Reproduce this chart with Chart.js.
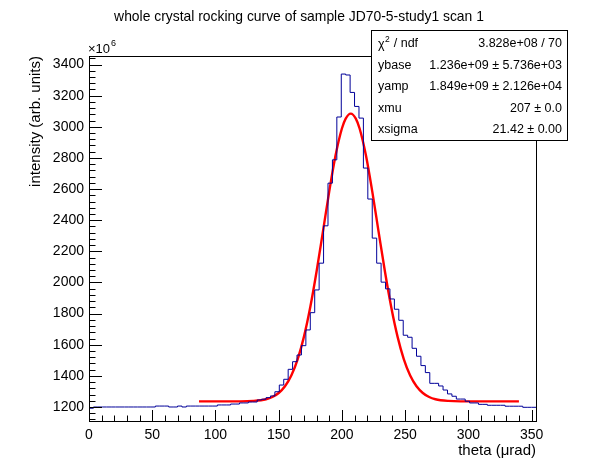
<!DOCTYPE html>
<html>
<head>
<meta charset="utf-8">
<script src="https://cdn.jsdelivr.net/npm/chart.js@4.4.1/dist/chart.umd.min.js"></script>
<style>
  html, body { margin: 0; padding: 0; background: #fff; }
  #chart { display: block; }
</style>
</head>
<body>
<canvas id="chart" width="596" height="472"></canvas>
<script>
// histogram: 101 bins of 3.5 urad starting at 0, values in 10^6 arb. units
const binWidth = 3.5;
const counts = [
  1192, 1200, 1200, 1200, 1200, 1200, 1200, 1200, 1200, 1200,
  1200, 1200, 1200, 1200, 1200, 1206, 1206, 1206, 1200, 1200,
  1206, 1200, 1206, 1206, 1206, 1206, 1206, 1206, 1206, 1213,
  1213, 1213, 1219, 1219, 1226, 1226, 1232, 1232, 1245, 1250,
  1260, 1271, 1298, 1341, 1378, 1442, 1491, 1534, 1594, 1695,
  1806, 1952, 2124, 2364, 2638, 2788, 3063, 3339, 3333, 3221,
  3131, 3056, 2735, 2536, 2285, 2124, 2002, 1959, 1894, 1828,
  1757, 1661, 1648, 1577, 1526, 1466, 1421, 1352, 1352, 1335,
  1309, 1284, 1269, 1251, 1251, 1237, 1226, 1226, 1217, 1217,
  1211, 1211, 1211, 1211, 1205, 1205, 1205, 1205, 1198, 1198,
  1198
];

// fitted curve
const fitX = [87, 120, 130, 140, 145, 150, 155, 160, 165, 170,
  175, 180, 185, 190, 195, 200, 203, 207, 211, 214,
  219, 224, 229, 234, 239, 244, 249, 254, 259, 264,
  269, 274, 284, 294, 340];
const fitY = [1236, 1236, 1239, 1250, 1264, 1290, 1333, 1402, 1506, 1652,
  1842, 2072, 2327, 2585, 2817, 2989, 3053, 3085, 3053, 2989,
  2817, 2585, 2327, 2072, 1842, 1652, 1506, 1402, 1333, 1290,
  1264, 1250, 1239, 1236, 1236];

const xTicks = [0, 50, 100, 150, 200, 250, 300, 350];
const yTicks = [1200, 1400, 1600, 1800, 2000, 2200, 2400, 2600, 2800, 3000, 3200, 3400];

const statLabels = ['ndf', 'ybase', 'yamp', 'xmu', 'xsigma'];
const statValues = ['3.828e+08 / 70', '1.236e+09 \u00b1 5.736e+03', '1.849e+09 \u00b1 2.126e+04', '207 \u00b1 0.0', '21.42 \u00b1 0.00'];

const chartTitle = 'whole crystal rocking curve of sample JD70-5-study1 scan 1';

const histPoints = counts.map((v, i) => ({ x: i * binWidth, y: v }));
histPoints.push({ x: counts.length * binWidth, y: counts[counts.length - 1] });

const fitPoints = fitX.map((x, i) => ({ x: x, y: fitY[i] }));

const FONT = '"Liberation Sans", Arial, Helvetica, sans-serif';
Chart.defaults.font.family = FONT;
Chart.defaults.color = '#000';

const rootFrame = {
  id: 'rootFrame',
  afterDraw(chart) {
    const ctx = chart.ctx;
    const area = chart.chartArea;
    const xs = chart.scales.x;
    const ys = chart.scales.y;

    ctx.save();
    ctx.strokeStyle = '#000';
    ctx.lineWidth = 1;
    ctx.strokeRect(Math.round(area.left) + 0.5, Math.round(area.top) + 0.5,
      Math.round(area.right - area.left), Math.round(area.bottom - area.top));

    // inward ticks, ROOT style
    ctx.beginPath();
    for (let v = xs.min; v <= xs.max; v += 10) {
      const px = Math.round(xs.getPixelForValue(v)) + 0.5;
      const len = xTicks.includes(v) ? 11 : 5.5;
      ctx.moveTo(px, area.bottom);
      ctx.lineTo(px, area.bottom - len);
    }
    for (let v = 1120; v <= ys.max; v += 40) {
      const py = Math.round(ys.getPixelForValue(v)) + 0.5;
      const len = yTicks.includes(v) ? 13 : 6.5;
      ctx.moveTo(area.left, py);
      ctx.lineTo(area.left + len, py);
    }
    ctx.stroke();

    ctx.fillStyle = '#000';

    // title
    ctx.textAlign = 'center';
    ctx.textBaseline = 'alphabetic';
    ctx.font = '13.9px ' + FONT;
    ctx.fillText(chartTitle, 299, 21);

    // exponent
    ctx.textAlign = 'left';
    ctx.font = '13px ' + FONT;
    ctx.fillText('\u00d710', 88, 53);
    const w = ctx.measureText('\u00d710').width;
    ctx.font = '9px ' + FONT;
    ctx.fillText('6', 88 + w + 1, 46);

    // stats box
    const bx = 371, by = 30, bw = 196, bh = 110;
    ctx.fillStyle = '#fff';
    ctx.fillRect(bx, by, bw, bh);
    ctx.strokeRect(bx + 0.5, by + 0.5, bw, bh);
    ctx.fillStyle = '#000';
    ctx.textBaseline = 'middle';
    const rowY = [44, 65.5, 87, 108.5, 130];
    statLabels.forEach((label, i) => {
      ctx.font = '12.5px ' + FONT;
      ctx.textAlign = 'left';
      if (i === 0) {
        ctx.fillText('\u03c7', 378, rowY[i] + 1);
        const cw = ctx.measureText('\u03c7').width;
        ctx.font = '8.5px ' + FONT;
        ctx.fillText('2', 378 + cw + 0.5, rowY[i] - 4);
        const sw = ctx.measureText('2').width;
        ctx.font = '12.5px ' + FONT;
        ctx.fillText(' / ' + label, 378 + cw + sw + 1, rowY[i]);
      } else {
        ctx.fillText(label, 378, rowY[i]);
      }
      ctx.textAlign = 'right';
      ctx.fillText(statValues[i], 562, rowY[i]);
    });
    ctx.restore();
  }
};

new Chart(document.getElementById('chart'), {
  type: 'line',
  data: {
    datasets: [
      {
        label: 'hist',
        data: histPoints,
        stepped: true,
        borderColor: '#000099',
        borderWidth: 1,
        pointRadius: 0,
        fill: false
      },
      {
        label: 'fit',
        data: fitPoints,
        borderColor: '#ff0000',
        borderWidth: 2.4,
        pointRadius: 0,
        cubicInterpolationMode: 'monotone',
        fill: false
      }
    ]
  },
  options: {
    responsive: false,
    animation: false,
    devicePixelRatio: 1,
    layout: { padding: { top: 56, right: 60, left: 0, bottom: 0 } },
    plugins: {
      legend: { display: false },
      tooltip: { enabled: false },
      title: { display: false }
    },
    scales: {
      x: {
        type: 'linear',
        min: 0,
        max: 353.5,
        grid: { display: false, drawTicks: false },
        border: { display: false },
        afterBuildTicks: (scale) => { scale.ticks = xTicks.map(v => ({ value: v })); },
        afterFit: (scale) => { scale.height = 51; },
        ticks: { font: { size: 14 }, padding: 6, maxRotation: 0, color: '#000', callback: (v) => String(v) },
        title: {
          display: true,
          text: 'theta (\u03bcrad)',
          align: 'end',
          font: { size: 15 },
          color: '#000',
          padding: { top: 0, bottom: 12 }
        }
      },
      y: {
        type: 'linear',
        min: 1110,
        max: 3455,
        grid: { display: false, drawTicks: false },
        border: { display: false },
        afterBuildTicks: (scale) => { scale.ticks = yTicks.map(v => ({ value: v })); },
        afterFit: (scale) => { scale.width = 89; },
        ticks: { font: { size: 14 }, padding: 5, color: '#000', callback: (v) => String(v) },
        title: {
          display: true,
          text: 'intensity (arb. units)',
          align: 'end',
          font: { size: 15 },
          color: '#000',
          padding: { top: 27, bottom: 0 }
        }
      }
    }
  },
  plugins: [rootFrame]
});
</script>
</body>
</html>
